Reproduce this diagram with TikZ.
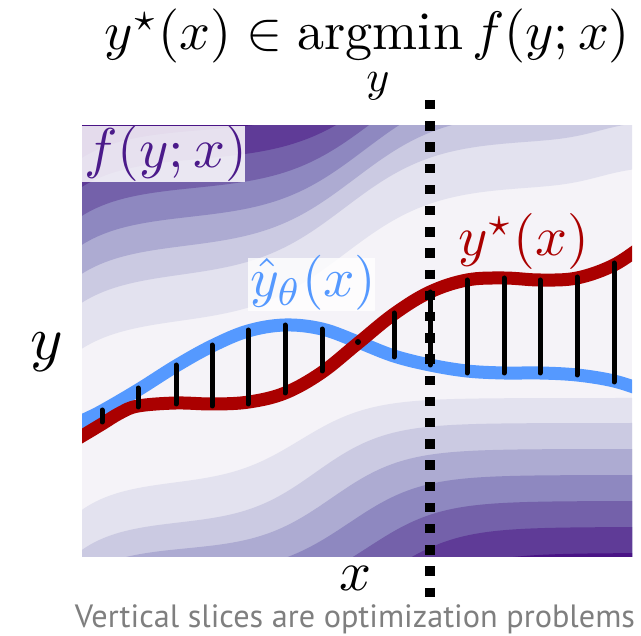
\documentclass[tikz,border=0pt]{standalone}
\usepackage{graphicx}
\usepackage{amsmath}
\usepackage{fontspec}
\newfontfamily\capfont{PT Sans}
\definecolor{c0}{HTML}{F5F3F8}
\definecolor{c1}{HTML}{E3E2EF}
\definecolor{c2}{HTML}{CBCAE2}
\definecolor{c3}{HTML}{ADABD2}
\definecolor{c4}{HTML}{8E88C0}
\definecolor{c5}{HTML}{7461AA}
\definecolor{c6}{HTML}{5F3B97}
\definecolor{c7}{HTML}{4A1486}
\definecolor{redc}{HTML}{AA0000}
\definecolor{bluec}{HTML}{5599FF}
\definecolor{purpc}{HTML}{4B1A8A}
\definecolor{capc}{HTML}{7F7F7F}
\begin{document}
\begin{tikzpicture}[x=1pt,y=-1pt,
  declare function={
    sg(\t)=1/(1+exp(-max(-9,min(9,\t))));
    ub(\x,\c)=140+135*(1-sg((\x-\c)/45))+28*exp(-(\x-82)/45)-20*sg((\x-600)/20);
    lw(\x)=25+15*(1-sg((\x-300)/35));
    lb(\x,\c)=398+84*(1-sg((\x-\c)/35))+28*exp(-(\x-82)/40);
  },
  bandplot/.style={domain=78:636,samples=111,smooth},
  curve/.style={line width=13pt},
  bar/.style={line width=5pt,line cap=round,black},
  big/.style={inner sep=0pt},
  labelbox/.style={fill=white,fill opacity=#1}]
\useasboundingbox (0,0) rectangle (641,636);
\begin{scope}
  \clip (82,126) rectangle (632,557);
  \fill[c0] (82,126) rectangle (632,557);
  % upper bands
  \fill[c1] plot[bandplot] (\x,{ub(\x,345)+46}) -- (640,0) -- (70,0) -- cycle;
  \foreach \k/\col in {1/c2,2/c3,3/c4,4/c5,5/c6,6/c7}{
    \fill[\col] plot[bandplot] (\x,{ub(\x,345+10*(\k-1))-29*(\k-1)}) -- (640,0) -- (70,0) -- cycle;
  }
  % lower bands
  \fill[c1] plot[bandplot] (\x,{lb(\x,300)}) -- (640,640) -- (70,640) -- cycle;
  \foreach \k/\col in {1/c2,2/c3,3/c4,4/c5,5/c6,6/c7}{
    \fill[\col] plot[bandplot] (\x,{lb(\x,300+18*\k)+lw(\x)+26*(\k-1)}) -- (640,640) -- (70,640) -- cycle;
  }
  % curves
  \draw[curve,bluec] plot[smooth,tension=0.6] coordinates {(70,428) (82,421) (102,411) (138,390) (176,366) (212,346) (248,331) (285,325) (322,329) (358,342) (394,356) (430,365) (467,371) (504,373) (540,373) (577,375) (614,381) (645,391)};
  \draw[curve,redc] plot[smooth,tension=0.6] coordinates {(70,443) (82,436) (102,424) (120,413) (138,406) (176,403) (213,404) (249,402) (285,393) (321,373) (357,344) (394,314) (430,292) (467,280) (504,278) (540,280) (577,278) (614,265) (645,244)};
  % vertical slices
  \draw[bar] (102,410) -- (102,422);
  \draw[bar] (138,388) -- (138,407);
  \draw[bar] (176,365) -- (176,404);
  \draw[bar] (212,345) -- (212,406);
  \draw[bar] (248,330) -- (248,404);
  \draw[bar] (285,325) -- (285,393);
  \draw[bar] (322,329) -- (322,371);
  \fill[black] (358,342) circle (3);
  \draw[bar] (394,313) -- (394,357);
  \draw[bar] (430,292) -- (430,365);
  \draw[bar] (467,280) -- (467,373);
  \draw[bar] (504,278) -- (504,373);
  \draw[bar] (540,280) -- (540,373);
  \draw[bar] (577,277) -- (577,375);
  \draw[bar] (614,263) -- (614,382);
  % labels inside plot
  \fill[labelbox=0.85] (82,126) rectangle (245,182);
  \node[big,anchor=base west,text=purpc] (flab) at (84,168) {\scalebox{5.6}{$f(y;x)$}};
  \fill[labelbox=0.8] (248,258) rectangle (375,311);
  \node[big,anchor=base west,text=bluec] (yhat) at (250,297) {\scalebox{5.5}{$\hat{y}_\theta(x)$}};
  \node[big,anchor=base west,text=redc] (ystar) at (458,256) {\scalebox{5.6}{$y^\star(x)$}};
\end{scope}
% dotted vertical slice
\draw[line width=10pt,dash pattern=on 9.5pt off 11.7pt] (430,100) -- (430,598);
% title and axis labels
\node[inner sep=0pt,anchor=base] (title) at (367.5,50) {\resizebox{525pt}{!}{$y^\star(x)\in\operatorname{argmin}f(y;x)$}};
\node[big] (ysub) at (378,86) {\scalebox{4.4}{$y$}};
\node[big] (ylab) at (47,352) {\scalebox{6.2}{$y$}};
\node[big] (xlab) at (356,578) {\scalebox{5.6}{$x$}};
\node[inner sep=0pt,anchor=base,text=capc] (cap) at (355,628) {\resizebox{560pt}{!}{\capfont Vertical slices are optimization problems}};
\end{tikzpicture}
\end{document}
